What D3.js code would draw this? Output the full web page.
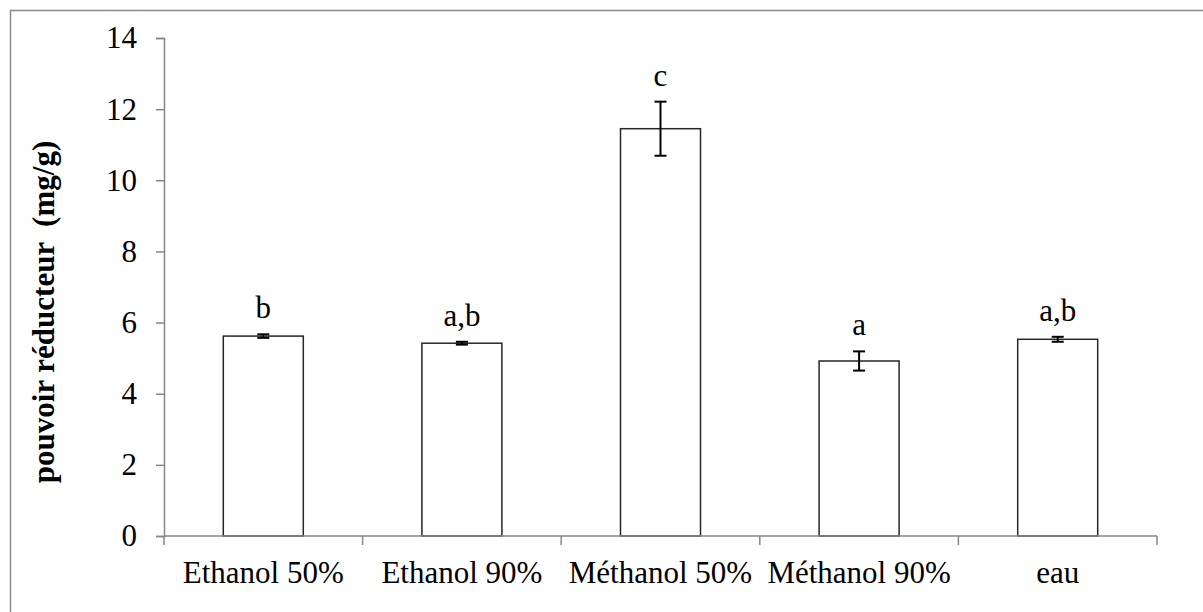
<!DOCTYPE html>
<html>
<head>
<meta charset="utf-8">
<script src="https://cdn.jsdelivr.net/npm/d3@7"></script>
<style>
  body { margin: 0; background: #fff; }
  text { font-family: "Liberation Serif", "Times New Roman", serif; fill: #000; }
</style>
</head>
<body>
<svg width="1203" height="612"></svg>
<script>
var categories = ["Ethanol 50%", "Ethanol 90%", "Méthanol 50%", "Méthanol 90%", "eau"];
var means = [5.62, 5.42, 11.45, 4.92, 5.53];
var errors = [0.05, 0.04, 0.76, 0.27, 0.07];
var letters = ["b", "a,b", "c", "a", "a,b"];
var yTicks = [0, 2, 4, 6, 8, 10, 12, 14];

var svg = d3.select("svg"),
    margin = {top: 38, right: 46, bottom: 76, left: 164},
    width = 1157 - margin.left,
    height = 536 - margin.top,
    fs = 31;

var data = categories.map(function(c, i) {
    return {cat: c, mean: means[i], err: errors[i], letter: letters[i]};
});

// outer frame
svg.append("rect")
    .attr("x", 10.5).attr("y", 10.5)
    .attr("width", 1220).attr("height", 700)
    .attr("fill", "none")
    .attr("stroke", "#8a8a8a")
    .attr("stroke-width", 1.5);

var x = d3.scaleBand().domain(categories).range([0, width]).paddingInner(0).paddingOuter(0),
    y = d3.scaleLinear().domain([0, 14]).range([height, 0]);

var g = svg.append("g")
    .attr("transform", "translate(" + margin.left + "," + margin.top + ")");

// y axis
var yAxis = d3.axisLeft(y).tickValues(yTicks).tickSize(8).tickPadding(19).tickFormat(d3.format("d"));
var yAxisGroup = g.append("g").call(yAxis);
yAxisGroup.select(".domain").attr("stroke", "#868686").attr("stroke-width", 1.5);
yAxisGroup.selectAll(".tick line").attr("stroke", "#868686").attr("stroke-width", 1.5);
yAxisGroup.selectAll(".tick text")
    .attr("font-size", fs)
    .attr("fill", "#000");

// bars
var barW = 80;
g.selectAll(".bar")
    .data(data)
    .enter().append("rect")
    .attr("class", "bar")
    .attr("x", function(d) { return x(d.cat) + x.bandwidth() / 2 - barW / 2; })
    .attr("y", function(d) { return y(d.mean); })
    .attr("width", barW)
    .attr("height", function(d) { return height - y(d.mean); })
    .attr("fill", "#fff")
    .attr("stroke", "#262626")
    .attr("stroke-width", 1.5);

// x axis (ticks at category boundaries)
var boundaries = categories.map(function(c) { return x(c); }).concat([width]);
var xAxisGroup = g.append("g").attr("transform", "translate(0," + height + ")");
xAxisGroup.append("line")
    .attr("x1", 0).attr("x2", width)
    .attr("stroke", "#868686").attr("stroke-width", 1.5);
xAxisGroup.selectAll(".xtick")
    .data(boundaries)
    .enter().append("line")
    .attr("class", "xtick")
    .attr("x1", function(d) { return d; })
    .attr("x2", function(d) { return d; })
    .attr("y1", 0).attr("y2", 9)
    .attr("stroke", "#868686").attr("stroke-width", 1.5);
xAxisGroup.selectAll(".xlabel")
    .data(categories)
    .enter().append("text")
    .attr("class", "xlabel")
    .attr("x", function(d) { return x(d) + x.bandwidth() / 2; })
    .attr("y", 47)
    .attr("text-anchor", "middle")
    .attr("font-size", fs)
    .text(function(d) { return d; });

// error bars
var cap = 6;
var eb = g.selectAll(".err").data(data).enter().append("g").attr("class", "err")
    .attr("stroke", "#000").attr("stroke-width", 2);
eb.append("line")
    .attr("x1", function(d) { return x(d.cat) + x.bandwidth() / 2; })
    .attr("x2", function(d) { return x(d.cat) + x.bandwidth() / 2; })
    .attr("y1", function(d) { return y(d.mean + d.err); })
    .attr("y2", function(d) { return y(d.mean - d.err); });
eb.append("line")
    .attr("x1", function(d) { return x(d.cat) + x.bandwidth() / 2 - cap; })
    .attr("x2", function(d) { return x(d.cat) + x.bandwidth() / 2 + cap; })
    .attr("y1", function(d) { return y(d.mean + d.err); })
    .attr("y2", function(d) { return y(d.mean + d.err); });
eb.append("line")
    .attr("x1", function(d) { return x(d.cat) + x.bandwidth() / 2 - cap; })
    .attr("x2", function(d) { return x(d.cat) + x.bandwidth() / 2 + cap; })
    .attr("y1", function(d) { return y(d.mean - d.err); })
    .attr("y2", function(d) { return y(d.mean - d.err); });

// significance letters
g.selectAll(".letter")
    .data(data)
    .enter().append("text")
    .attr("class", "letter")
    .attr("x", function(d) { return x(d.cat) + x.bandwidth() / 2; })
    .attr("y", function(d) { return y(d.mean + d.err) - 16; })
    .attr("text-anchor", "middle")
    .attr("font-size", fs)
    .text(function(d) { return d.letter; });

// y title
svg.append("text")
    .attr("transform", "translate(54,312) rotate(-90)")
    .attr("text-anchor", "middle")
    .attr("font-size", fs)
    .attr("font-weight", "bold")
    .style("white-space", "pre")
    .text("pouvoir réducteur  (mg/g)");
</script>
</body>
</html>
